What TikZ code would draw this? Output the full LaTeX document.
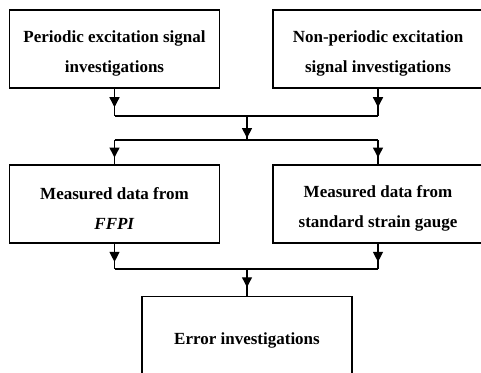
\documentclass[tikz,border=0pt]{standalone}
\usepackage{fontspec}
\setmainfont{Liberation Serif}
\usetikzlibrary{arrows.meta,decorations.markings}
\newcommand{\firststrut}{\rule{0pt}{21pt}}
\tikzset{box/.style={draw, line width=1.3pt, minimum width=210pt, minimum height=78pt, align=center, font=\bfseries\fontsize{17}{30}\selectfont},
  flow/.style={line width=1.3pt, postaction={decorate}, decoration={markings, mark=at position #1 with {\arrow{Triangle[length=10pt,width=10pt]}}}},
  flow/.default=0.7}
\begin{document}
\begin{tikzpicture}[x=1pt,y=-1pt]
\useasboundingbox (0,0) rectangle (481,372);
\clip (0,0) rectangle (481,372);
%
             \node [box] at (114.5,49) (periodic) {\firststrut Periodic excitation signal\\investigations};
             \node [box] at (378,49) (nonperiodic) {\firststrut Non-periodic excitation\\signal investigations};
             \node [box] at (114.5,204) (ffpi) {\firststrut Measured data from\\\textit{FFPI}};
             \node [box] at (378,204) (gauge) {\firststrut Measured data from\\standard strain gauge};
             \node [box] at (247,335.5) (error) {\firststrut Error investigations};
             \coordinate (top join) at (247,116);
             \coordinate (split) at (247,140);
             \coordinate (bottom join) at (247,269);
%
\draw[flow=0.68] (periodic.south) -- (periodic.south |- top join);
\draw[flow=0.68] (nonperiodic.south) -- (nonperiodic.south |- top join);
\draw[line width=1.3pt] (periodic.south |- top join) -- (nonperiodic.south |- top join);
\draw[flow=0.92] (top join) -- (split);
\draw[line width=1.3pt] (ffpi.north |- split) -- (gauge.north |- split);
\draw[flow=0.72] (ffpi.north |- split) -- (ffpi.north);
\draw[flow=0.72] (gauge.north |- split) -- (gauge.north);
\draw[flow=0.72] (ffpi.south) -- (ffpi.south |- bottom join);
\draw[flow=0.72] (gauge.south) -- (gauge.south |- bottom join);
\draw[line width=1.3pt] (ffpi.south |- bottom join) -- (gauge.south |- bottom join);
\draw[flow=0.68] (bottom join) -- (error.north);
\end{tikzpicture}
\end{document}
